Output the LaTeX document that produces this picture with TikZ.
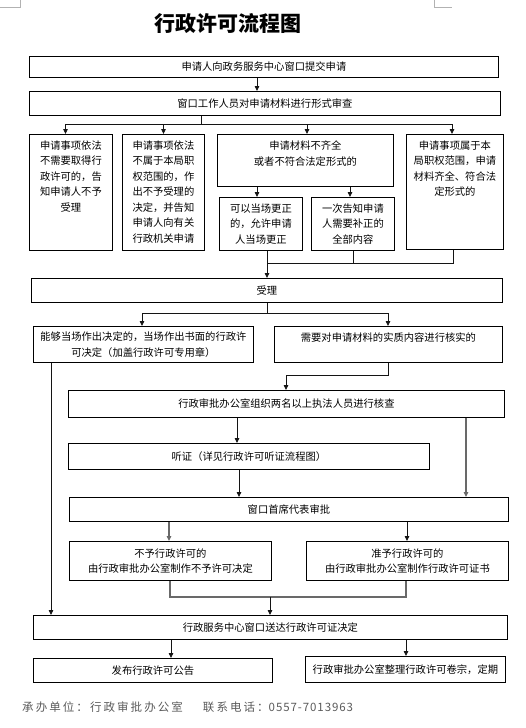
\documentclass[tikz,border=0pt]{standalone}
\usepackage{fontspec}
\setmainfont{Noto Sans CJK SC}
\usetikzlibrary{arrows.meta}
\definecolor{conn}{RGB}{20,20,20}
\definecolor{gconn}{RGB}{105,105,105}
\definecolor{foot}{RGB}{90,90,90}
\newcommand{\boxfont}{\fontsize{10.3pt}{15.5pt}\selectfont}
\begin{document}
\begin{tikzpicture}[x=1pt,y=-1pt,
  box/.style={draw=black, line width=0.8pt, inner sep=0pt, anchor=north west, align=center, font=\boxfont},
  toptext/.style={anchor=north, yshift=-6.5pt, inner sep=0pt, align=center, font=\boxfont},
  cline/.style={draw=conn, line width=0.8pt},
  gline/.style={draw=gconn, line width=1.1pt},
  arr/.style={cline, -{Triangle[length=5pt,width=4.5pt]}},
  garr/.style={gline, -{Triangle[length=5pt,width=4.5pt]}},
  cornermark/.style={draw=gray!60, line width=0.6pt}
]
\useasboundingbox (0,0) rectangle (525,728);

% page corner marks
\draw[cornermark] (0,7.5) -- (20.5,7.5) -- (20.5,0);
\draw[cornermark] (434,0) -- (434,7.5) -- (452,7.5);

% title
\node[font=\fontsize{21pt}{24pt}\selectfont\bfseries] (title) at (228,24) {行政许可流程图};

% boxes
\node[box, minimum width=469pt, minimum height=21pt] (b1) at (29,56) {申请人向政务服务中心窗口提交申请};
\node[box, minimum width=471pt, minimum height=24pt] (b2) at (29,91) {窗口工作人员对申请材料进行形式审查};

\node[box, minimum width=83pt, minimum height=116pt,
  label={[toptext]north:{申请事项依法\\不需要取得行\\政许可的，告\\知申请人不予\\受理}}] (bA) at (29,134) {};
\node[box, minimum width=82pt, minimum height=116pt,
  label={[toptext]north:{申请事项依法\\不属于本局职\\权范围的，作\\出不予受理的\\决定，并告知\\申请人向有关\\行政机关申请}}] (bB) at (122,134) {};
\node[box, minimum width=176pt, minimum height=52pt,
  label={[toptext, font=\fontsize{10.3pt}{16.5pt}\selectfont]north:{申请材料不齐全\\或者不符合法定形式的}}] (bC) at (217,134) {};
\node[box, minimum width=83pt, minimum height=53pt] (bC1) at (219,197) {可以当场更正\\的，允许申请\\人当场更正};
\node[box, minimum width=83pt, minimum height=53pt] (bC2) at (311,197) {一次告知申请\\人需要补正的\\全部内容};
\node[box, minimum width=97pt, minimum height=115pt,
  label={[toptext]north:{申请事项属于本\\局职权范围，申请\\材料齐全、符合法\\定形式的}}] (bD) at (406,134) {};

\node[box, minimum width=471pt, minimum height=24pt] (bS) at (31,278) {受理};

\node[box, minimum width=220pt, minimum height=36pt] (bE) at (33,326) {能够当场作出决定的，当场作出书面的行政许\\可决定（加盖行政许可专用章）};
\node[box, minimum width=228pt, minimum height=36pt,
  label={[toptext]north:{需要对申请材料的实质内容进行核实的}}] (bF) at (274,326) {};

\node[box, minimum width=436pt, minimum height=27pt] (bG) at (68,390) {行政审批办公室组织两名以上执法人员进行核查};
\node[box, minimum width=361pt, minimum height=26pt] (bH) at (68,443) {听证（详见行政许可听证流程图）};
\node[box, minimum width=439pt, minimum height=24pt] (bI) at (69,497) {窗口首席代表审批};
\node[box, minimum width=202pt, minimum height=39pt] (bJ) at (69,541) {不予行政许可的\\由行政审批办公室制作不予许可决定};
\node[box, minimum width=202pt, minimum height=39pt] (bK) at (306,541) {准予行政许可的\\由行政审批办公室制作行政许可证书};
\node[box, minimum width=474pt, minimum height=24pt] (bL) at (33,615) {行政服务中心窗口送达行政许可证决定};
\node[box, minimum width=239pt, minimum height=24pt] (bM) at (33,658) {发布行政许可公告};
\node[box, minimum width=200pt, minimum height=26pt] (bN) at (305,656) {行政审批办公室整理行政许可卷宗，定期};

% footer
\node[anchor=west, inner sep=0pt, text=foot, font=\fontsize{11.5pt}{14pt}\selectfont] (foot) at (22,707)
  {{\addfontfeature{LetterSpace=18}承办单位：行政审批办公室}\hspace{20pt}{\addfontfeature{LetterSpace=18}联系电话：}{\addfontfeature{LetterSpace=8}0557-7013963}};

% column coordinates
\coordinate (x51) at (51,0);
\coordinate (x65) at (65.5,0);
\coordinate (x142) at (142,0);
\coordinate (x163) at (163.5,0);
\coordinate (x169) at (169,0);
\coordinate (x170) at (170,0);
\coordinate (x171) at (171,0);
\coordinate (x237) at (237,0);
\coordinate (x239) at (239,0);
\coordinate (x257) at (257,0);
\coordinate (x286) at (286,0);
\coordinate (x307) at (307,0);
\coordinate (x350) at (350,0);
\coordinate (x353) at (353,0);
\coordinate (x388) at (388,0);
\coordinate (x406) at (406,0);
\coordinate (x407) at (407,0);
\coordinate (x452) at (452,0);
\coordinate (x453) at (453,0);
\coordinate (x466) at (466,0);

% junctions
\coordinate (j1) at (201,124);
\coordinate (j2) at (267,263);
\coordinate (j3) at (267,313);
\coordinate (j4) at (388,375);
\coordinate (j5) at (270,597);

% connectors
\draw[arr] (b1.south -| x257) -- (b2.north -| x257);
\draw[cline] (b2.south -| j1) -- (j1);
\draw[cline] (j1 -| x65) -- (j1 -| x452);
\draw[arr] (j1 -| x65) -- (bA.north -| x65);
\draw[arr] (j1 -| x163) -- (bB.north -| x163);
\draw[arr] (j1 -| x307) -- (bC.north -| x307);
\draw[arr] (j1 -| x452) -- (bD.north -| x452);

\draw[arr] (bC.south -| x257) -- (bC1.north -| x257);
\draw[arr] (bC.south -| x350) -- (bC2.north -| x350);

\draw[arr] (bC1.south -| j2) -- (bS.north -| j2);
\draw[cline] (bC2.south -| x353) |- (j2);
\draw[cline] (bD.south -| x453) |- (j2);

\draw[cline] (bS.south -| j3) -- (j3);
\draw[arr] (j3) -| (bE.north -| x142);
\draw[arr] (j3) -| (bF.north -| x388);

\draw[arr] (bE.south -| x51) -- (bL.north -| x51);
\draw[arr] (bF.south -| j4) -- (j4) -| (bG.north -| x286);

\draw[arr] (bG.south -| x237) -- (bH.north -| x237);
\draw[garr] (bG.south -| x466) -- (bI.north -| x466);
\draw[arr] (bH.south -| x239) -- (bI.north -| x239);

\draw[garr] (bI.south -| x169) -- (bJ.north -| x169);
\draw[arr] (bI.south -| x407) -- (bK.north -| x407);

\draw[gline] (bJ.south -| x170) |- (j5);
\draw[gline] (bK.south -| x406) |- (j5);
\draw[arr] (j5) -- (bL.north -| j5);

\draw[arr] (bL.south -| x171) -- (bM.north -| x171);
\draw[arr] (bL.south -| x406) -- (bN.north -| x406);
\end{tikzpicture}
\end{document}
